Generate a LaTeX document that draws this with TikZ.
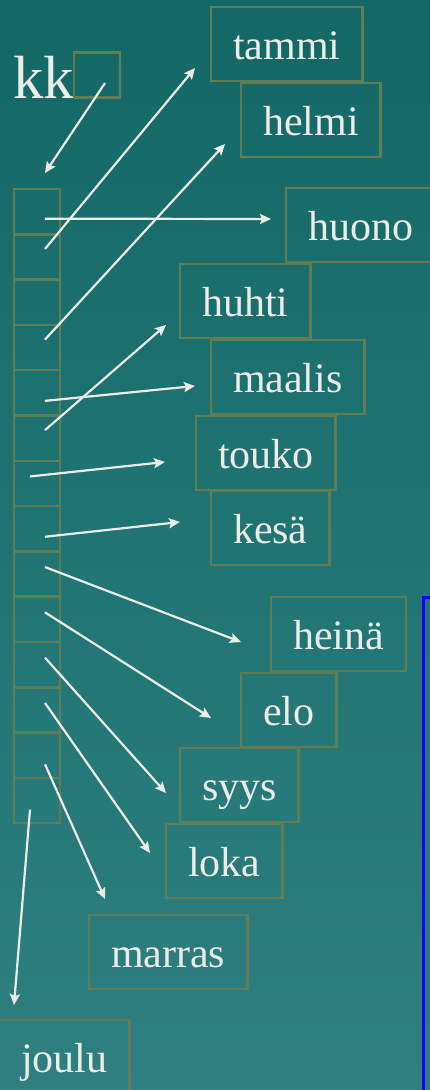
\documentclass[tikz,border=0pt]{standalone}
\usepackage{fontspec}
\setmainfont{Liberation Serif}
\usepackage{tikz}
\usetikzlibrary{arrows.meta}

\definecolor{bgtop}{RGB}{19,104,102}
\definecolor{bgbot}{RGB}{45,128,127}
\definecolor{frame}{RGB}{98,125,86}
\definecolor{ink}{RGB}{236,236,232}

\begin{document}
\begin{tikzpicture}[x=1pt, y=-1pt,
    box/.style = {draw=frame, line width=2.5pt, outer sep=0pt, inner xsep=22pt, minimum height=74pt,
        text height=31pt, text depth=0pt, text=ink, font=\fontsize{42pt}{44pt}\selectfont, anchor=north west},
    cell/.style = {draw=frame, line width=2.5pt, outer sep=0pt, inner sep=0pt, minimum width=46pt, minimum height=45.3pt},
    ptr/.style = {draw=ink, line width=2.2pt, -{Stealth[length=11pt, width=10pt, inset=2pt]}}]
    \path[use as bounding box, clip] (0,0) rectangle (430,1090);
    \fill[top color=bgtop, bottom color=bgbot] (0,0) rectangle (430,1090);

    \node[anchor=base west, inner sep=0pt, text=ink, font=\fontsize{61pt}{61pt}\selectfont] (kk) at (13,98) {kk};
    \node[cell] (kkbox) at (97,75) {};
    \foreach \r in {1,...,14}
        \node[cell] (c\r) at (37,{189+45.3*(\r-0.5)}) {};

    \node[box] (tammi) at (211,7) {tammi};
    \node[box] (helmi) at (241,83) {helmi};
    \node[box] (huono) at (286,188) {huono};
    \node[box] (huhti) at (180,264) {huhti};
    \node[box] (maalis) at (211,340) {maalis};
    \node[box] (touko) at (196,416) {touko};
    \node[box] (kesa) at (211,491) {kesä};
    \node[box] (heina) at (271,597) {heinä};
    \node[box] (elo) at (241,673) {elo};
    \node[box] (syys) at (180,748) {syys};
    \node[box] (loka) at (166,824) {loka};
    \node[box] (marras) at (89,915) {marras};
    \node[box] (joulu) at (-1,1020) {joulu};

    \coordinate (kk-tip) at (45,173);
    \coordinate (tammi-tip) at (195,68);
    \coordinate (helmi-tip) at (225,144);
    \coordinate (huono-tip) at (271,219);
    \coordinate (huhti-tip) at (166,325);
    \coordinate (maalis-tip) at (195,386);
    \coordinate (touko-tip) at (165,462);
    \coordinate (kesa-tip) at (180,522);
    \coordinate (heina-tip) at (241,642);
    \coordinate (elo-tip) at (211,718);
    \coordinate (syys-tip) at (166,793);
    \coordinate (loka-tip) at (150,853);
    \coordinate (marras-tip) at (105,899);
    \coordinate (joulu-tip) at (14,1005);

    \draw[ptr] ([shift={(8,8)}]kkbox.center) -- (kk-tip);
    \foreach \r/\dx/\dy/\m in {1/8/7/huono, 2/8/-8/tammi, 4/8/-8/helmi, 5/8/8/maalis, 6/8/-8/huhti,
        7/-7/-7/touko, 8/8/8/kesa, 9/8/-7/heina, 10/8/-7/elo, 11/8/-7/syys, 12/8/-7/loka,
        13/8/9/marras, 14/-7/9/joulu}
        \draw[ptr] ([shift={(\dx,\dy)}]c\r.center) -- (\m-tip);

    \draw[blue, line width=3pt] (423,1100) -- (423,597) -- (440,597);
\end{tikzpicture}
\end{document}
